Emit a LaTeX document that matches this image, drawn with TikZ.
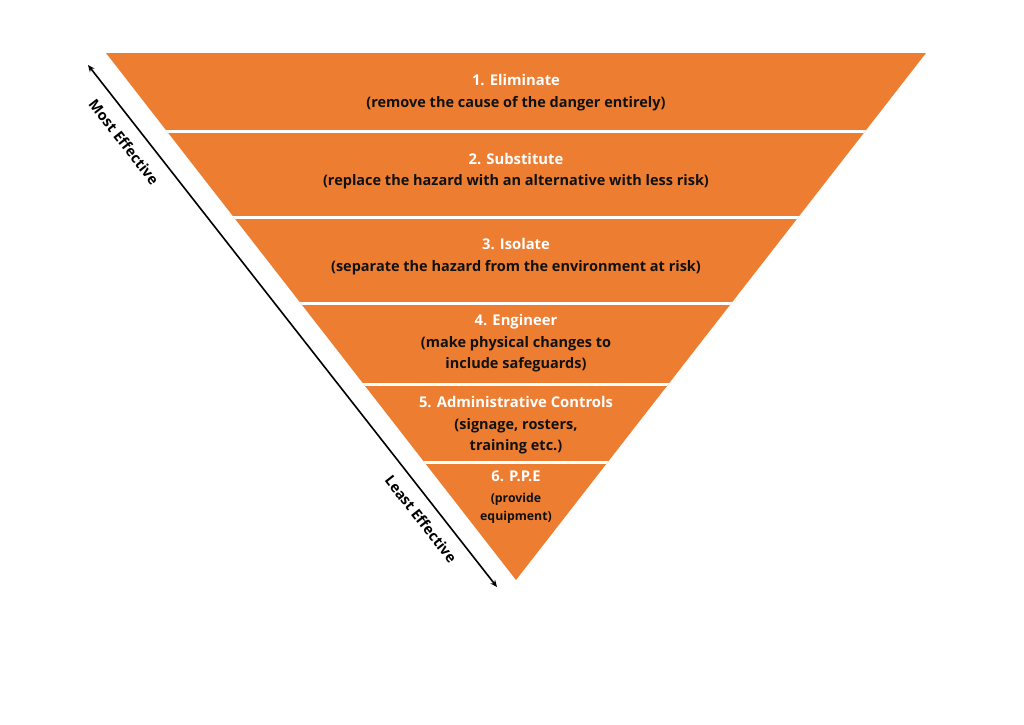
\documentclass[tikz,border=0pt]{standalone}
\usepackage{fontspec}
\setmainfont{Open Sans}
\usetikzlibrary{calc,arrows.meta}
\definecolor{hazorange}{HTML}{ED7D31}
\definecolor{subtext}{HTML}{111111}
\tikzset{
  ttl/.style={anchor=base,inner sep=0pt,text=white,font=\bfseries\fontsize{14.8}{17}\selectfont},
  sbt/.style={anchor=base,inner sep=0pt,text=subtext,font=\bfseries\fontsize{14.5}{17}\selectfont},
  smalltext/.style={anchor=base,inner sep=0pt,text=subtext,font=\bfseries\fontsize{12.3}{14}\selectfont},
  sideLabel/.style={font=\bfseries\fontsize{14.5}{16}\selectfont,rotate=-51.9,inner sep=0pt},
  sep/.style={white,line width=3pt},
}
\begin{document}
\begin{tikzpicture}[x=1pt,y=-1pt]
\useasboundingbox (0,0) rectangle (1024,724);
\coordinate (TL) at (106,53);
\coordinate (TR) at (926,53);
\coordinate (AP) at (516,580);
\fill[hazorange] (TL) -- (TR) -- (AP) -- cycle;
\begin{scope}
\clip (TL) -- (TR) -- (AP) -- cycle;
\foreach \yy in {131.5,217,303.5,384,462}{
  \draw[sep] (0,\yy) -- (1024,\yy);
}
\end{scope}
\node[ttl] (t1) at (516,85.7) {1. Eliminate};
\node[sbt] (s1) at (516,107) {(remove the cause of the danger entirely)};
\node[ttl] (t2) at (516,164) {2. Substitute};
\node[sbt] (s2) at (516,185.5) {(replace the hazard with an alternative with less risk)};
\node[ttl] (t3) at (516,249.5) {3. Isolate};
\node[sbt] (s3) at (516,271) {(separate the hazard from the environment at risk)};
\node[ttl] (t4) at (516,325.7) {4. Engineer};
\node[sbt] (s4a) at (516,347) {(make physical changes to};
\node[sbt] (s4b) at (516,368.3) {include safeguards)};
\node[ttl] (t5) at (516,407.3) {5. Administrative Controls};
\node[sbt] (s5a) at (516,429) {(signage, rosters,};
\node[sbt] (s5b) at (516,450.5) {training etc.)};
\node[ttl] (t6) at (516,481.7) {6. P.P.E};
\node[smalltext] (s6a) at (516,502.7) {(provide};
\node[smalltext] (s6b) at (516,520) {equipment)};
\coordinate (AT) at (88,65);
\coordinate (AB) at (497,587);
\draw[{Stealth[length=7pt,width=6pt]}-{Stealth[length=7pt,width=6pt]},line width=1.6pt] (AT) -- (AB);
\node[sideLabel] (most) at (124,142) {Most Effective};
\node[sideLabel] (least) at (421,519) {Least Effective};
\end{tikzpicture}
\end{document}
